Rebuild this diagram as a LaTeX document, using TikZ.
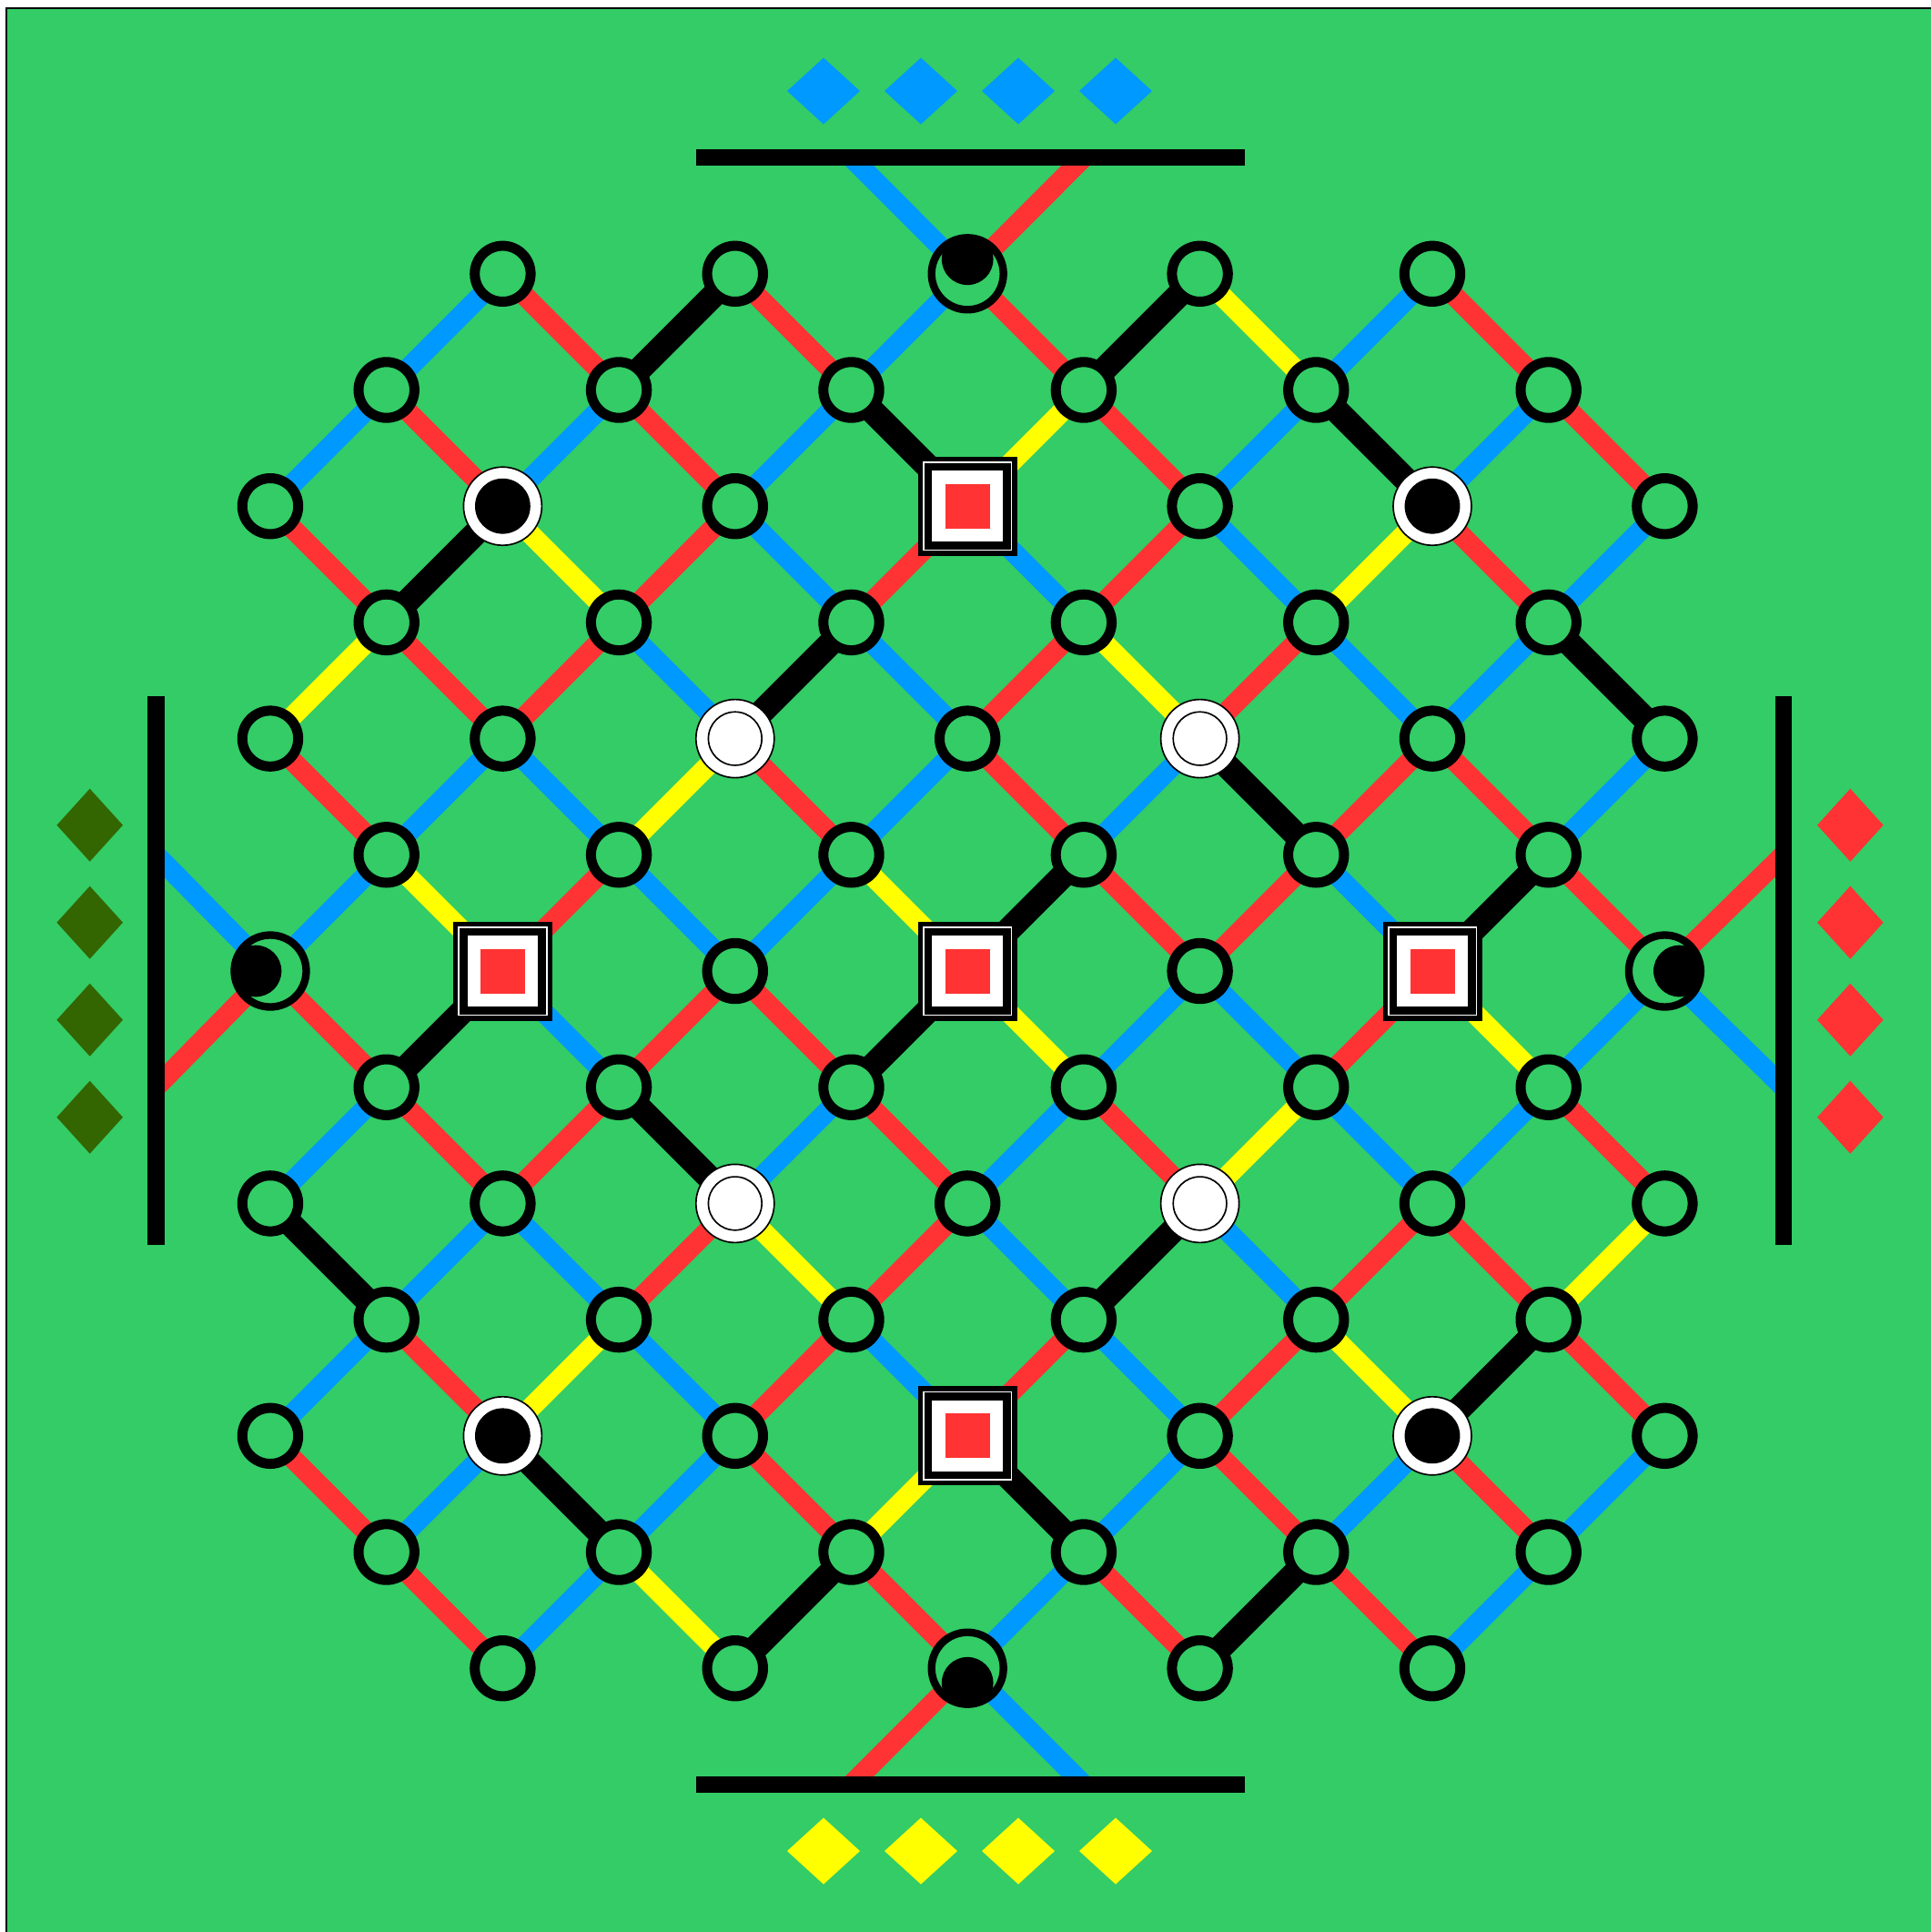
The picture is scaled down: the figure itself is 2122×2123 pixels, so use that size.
\documentclass[tikz,border=0pt]{standalone}
\pgfdeclarelayer{under}
\pgfsetlayers{under,main}
\definecolor{bg}{HTML}{33CC66}
\definecolor{cb}{HTML}{0099FF}
\definecolor{cr}{HTML}{FF3333}
\definecolor{cy}{HTML}{FFFF00}
\definecolor{cg}{HTML}{336600}
\newcommand\sqlay[2]{\fill[#1] ([shift={(-#2,-#2)}]path picture bounding box.center) rectangle ([shift={(#2,#2)}]path picture bounding box.center);}
\newcommand\markspecial[1]{\expandafter\def\csname spc#1\endcsname{}}
\markspecial{2-2}\markspecial{10-2}\markspecial{2-10}\markspecial{10-10}
\markspecial{4-4}\markspecial{8-4}\markspecial{4-8}\markspecial{8-8}
\markspecial{6-2}\markspecial{2-6}\markspecial{6-6}\markspecial{10-6}\markspecial{6-10}
\markspecial{6-0}\markspecial{0-6}\markspecial{12-6}\markspecial{6-12}
\begin{document}
\begin{tikzpicture}[x=0.3pt,y=-0.3pt,
  reg/.style={circle,draw=black,fill=bg,line width=3.3pt,minimum size=18.42pt,inner sep=0pt},
  bwn/.style={circle,draw=black,fill=white,line width=0.5pt,minimum size=25.8pt,inner sep=0pt,
     path picture={\fill[black] (path picture bounding box.center) circle[radius=9.12pt];}},
  whn/.style={circle,draw=black,fill=white,line width=0.5pt,minimum size=25.8pt,inner sep=0pt,
     path picture={\draw[black,line width=0.5pt] (path picture bounding box.center) circle[radius=8.8pt];}},
  halfbase/.style={circle,draw=black,fill=bg,line width=2.5pt,minimum size=23.7pt,inner sep=0pt},
  halfU/.style={halfbase,path picture={\fill[black] ([yshift=4.8pt]path picture bounding box.center) circle[radius=8.5pt];}},
  halfD/.style={halfbase,path picture={\fill[black] ([yshift=-4.8pt]path picture bounding box.center) circle[radius=8.5pt];}},
  halfL/.style={halfbase,path picture={\fill[black] ([xshift=-4.8pt]path picture bounding box.center) circle[radius=8.5pt];}},
  halfR/.style={halfbase,path picture={\fill[black] ([xshift=4.8pt]path picture bounding box.center) circle[radius=8.5pt];}},
  sqn/.style={rectangle,fill=black,minimum size=32.7pt,inner sep=0pt,
     path picture={\sqlay{white}{14.78pt}\sqlay{black}{14.25pt}\sqlay{white}{11.63pt}\sqlay{cr}{7.35pt}}},
  eB/.style={cb,line width=6.6pt},
  eR/.style={cr,line width=6.6pt},
  eY/.style={cy,line width=6.6pt},
  eK/.style={black,line width=8.1pt},
  barline/.style={black,line width=5.6pt}]
\useasboundingbox (0,0) rectangle (2122,2123);
\begin{pgfonlayer}{under}
\draw[line width=0.45pt,fill=bg] (7,9) rectangle (2140,2140);
\end{pgfonlayer}
% regular nodes
\foreach \i in {0,...,12}{
  \foreach \j in {0,...,12}{
    \pgfmathtruncatemacro\ok{(mod(\i+\j,2)==0)&&(abs(\i-6)+abs(\j-6)<=10)}
    \ifnum\ok=1
      \ifcsname spc\i-\j\endcsname\else
        \node[reg] (n\i-\j) at ({297+127.7*\i},{300.8+127.7*\j}) {};
      \fi
    \fi
  }
}
% special nodes
\foreach \i/\j/\st in {2/2/bwn,10/2/bwn,2/10/bwn,10/10/bwn,
  4/4/whn,8/4/whn,4/8/whn,8/8/whn,
  6/2/sqn,2/6/sqn,6/6/sqn,10/6/sqn,6/10/sqn,
  6/0/halfU,6/12/halfD,0/6/halfL,12/6/halfR}{
  \node[\st] (n\i-\j) at ({297+127.7*\i},{300.8+127.7*\j}) {};
}
% bar end points for outer connectors
\coordinate (t5) at ({297+127.7*5},173);
\coordinate (t7) at ({297+127.7*7},173);
\coordinate (b5) at ({297+127.7*5},1961);
\coordinate (b7) at ({297+127.7*7},1961);
\coordinate (l5) at (171.5,{300.8+127.7*5});
\coordinate (l7) at (171.5,{300.8+127.7*7});
\coordinate (r5) at (1960,{300.8+127.7*5});
\coordinate (r7) at (1960,{300.8+127.7*7});
% edges
\begin{pgfonlayer}{under}
\foreach \ia/\ja/\ib/\jb/\col in {
 2/0/1/1/B, 2/0/3/1/R, 4/0/3/1/K, 4/0/5/1/R, 6/0/5/1/B, 6/0/7/1/R, 8/0/7/1/K, 8/0/9/1/Y, 10/0/9/1/B, 10/0/11/1/R,
 1/1/0/2/B, 1/1/2/2/R, 3/1/2/2/B, 3/1/4/2/R, 5/1/4/2/B, 5/1/6/2/K, 7/1/6/2/Y, 7/1/8/2/R, 9/1/8/2/B, 9/1/10/2/K, 11/1/10/2/B, 11/1/12/2/R,
 0/2/1/3/R, 2/2/1/3/K, 2/2/3/3/Y, 4/2/3/3/R, 4/2/5/3/B, 6/2/5/3/R, 6/2/7/3/B, 8/2/7/3/R, 8/2/9/3/B, 10/2/9/3/Y, 10/2/11/3/R, 12/2/11/3/B,
 1/3/0/4/Y, 1/3/2/4/R, 3/3/2/4/R, 3/3/4/4/B, 5/3/4/4/K, 5/3/6/4/B, 7/3/6/4/R, 7/3/8/4/Y, 9/3/8/4/R, 9/3/10/4/B, 11/3/10/4/B, 11/3/12/4/K,
 0/4/1/5/R, 2/4/1/5/B, 2/4/3/5/B, 4/4/3/5/Y, 4/4/5/5/R, 6/4/5/5/B, 6/4/7/5/R, 8/4/7/5/B, 8/4/9/5/K, 10/4/9/5/R, 10/4/11/5/R, 12/4/11/5/B,
 1/5/0/6/B, 1/5/2/6/Y, 3/5/2/6/R, 3/5/4/6/B, 5/5/4/6/B, 5/5/6/6/Y, 7/5/6/6/K, 7/5/8/6/R, 9/5/8/6/R, 9/5/10/6/B, 11/5/10/6/K, 11/5/12/6/R,
 0/6/1/7/R, 2/6/1/7/K, 2/6/3/7/B, 4/6/3/7/R, 4/6/5/7/R, 6/6/5/7/K, 6/6/7/7/Y, 8/6/7/7/B, 8/6/9/7/B, 10/6/9/7/R, 10/6/11/7/Y, 12/6/11/7/B,
 1/7/0/8/B, 1/7/2/8/R, 3/7/2/8/R, 3/7/4/8/K, 5/7/4/8/B, 5/7/6/8/R, 7/7/6/8/B, 7/7/8/8/R, 9/7/8/8/Y, 9/7/10/8/B, 11/7/10/8/B, 11/7/12/8/R,
 0/8/1/9/K, 2/8/1/9/B, 2/8/3/9/B, 4/8/3/9/R, 4/8/5/9/Y, 6/8/5/9/R, 6/8/7/9/B, 8/8/7/9/K, 8/8/9/9/B, 10/8/9/9/R, 10/8/11/9/R, 12/8/11/9/Y,
 1/9/0/10/B, 1/9/2/10/R, 3/9/2/10/Y, 3/9/4/10/B, 5/9/4/10/R, 5/9/6/10/B, 7/9/6/10/R, 7/9/8/10/B, 9/9/8/10/R, 9/9/10/10/Y, 11/9/10/10/K, 11/9/12/10/R,
 0/10/1/11/R, 2/10/1/11/B, 2/10/3/11/K, 4/10/3/11/B, 4/10/5/11/R, 6/10/5/11/Y, 6/10/7/11/K, 8/10/7/11/B, 8/10/9/11/R, 10/10/9/11/B, 10/10/11/11/R, 12/10/11/11/B,
 1/11/2/12/R, 3/11/2/12/B, 3/11/4/12/Y, 5/11/4/12/K, 5/11/6/12/R, 7/11/6/12/B, 7/11/8/12/R, 9/11/8/12/K, 9/11/10/12/R, 11/11/10/12/B}{
  \draw[e\col] (n\ia-\ja.center) -- (n\ib-\jb.center);
}
\draw[eB] (t5) -- (n6-0.center);
\draw[eR] (t7) -- (n6-0.center);
\draw[eR] (b5) -- (n6-12.center);
\draw[eB] (b7) -- (n6-12.center);
\draw[eB] (l5) -- (n0-6.center);
\draw[eR] (l7) -- (n0-6.center);
\draw[eR] (r5) -- (n12-6.center);
\draw[eB] (r7) -- (n12-6.center);
\end{pgfonlayer}
% bars
\coordinate (tbA) at (765,173);
\coordinate (tbB) at (1368,173);
\coordinate (bbA) at (765,1961);
\coordinate (bbB) at (1368,1961);
\coordinate (lbA) at (171.5,765);
\coordinate (lbB) at (171.5,1368);
\coordinate (rbA) at (1960,765);
\coordinate (rbB) at (1960,1368);
\draw[barline] (tbA) -- (tbB);
\draw[barline] (bbA) -- (bbB);
\draw[barline] (lbA) -- (lbB);
\draw[barline] (rbA) -- (rbB);
% diamonds
\foreach \x in {905,1012,1119,1226}{
  \fill[cb] (\x,100) +(-40,0) -- +(0,-36.5) -- +(40,0) -- +(0,36.5) -- cycle;
  \fill[cy] (\x,2034) +(-40,0) -- +(0,-36.5) -- +(40,0) -- +(0,36.5) -- cycle;
}
\foreach \y in {906.7,1013.7,1120.7,1227.7}{
  \fill[cg] (98.7,\y) +(-36.3,0) -- +(0,-40) -- +(36.3,0) -- +(0,40) -- cycle;
  \fill[cr] (2033.3,\y) +(-36.3,0) -- +(0,-40) -- +(36.3,0) -- +(0,40) -- cycle;
}
\end{tikzpicture}
\end{document}
